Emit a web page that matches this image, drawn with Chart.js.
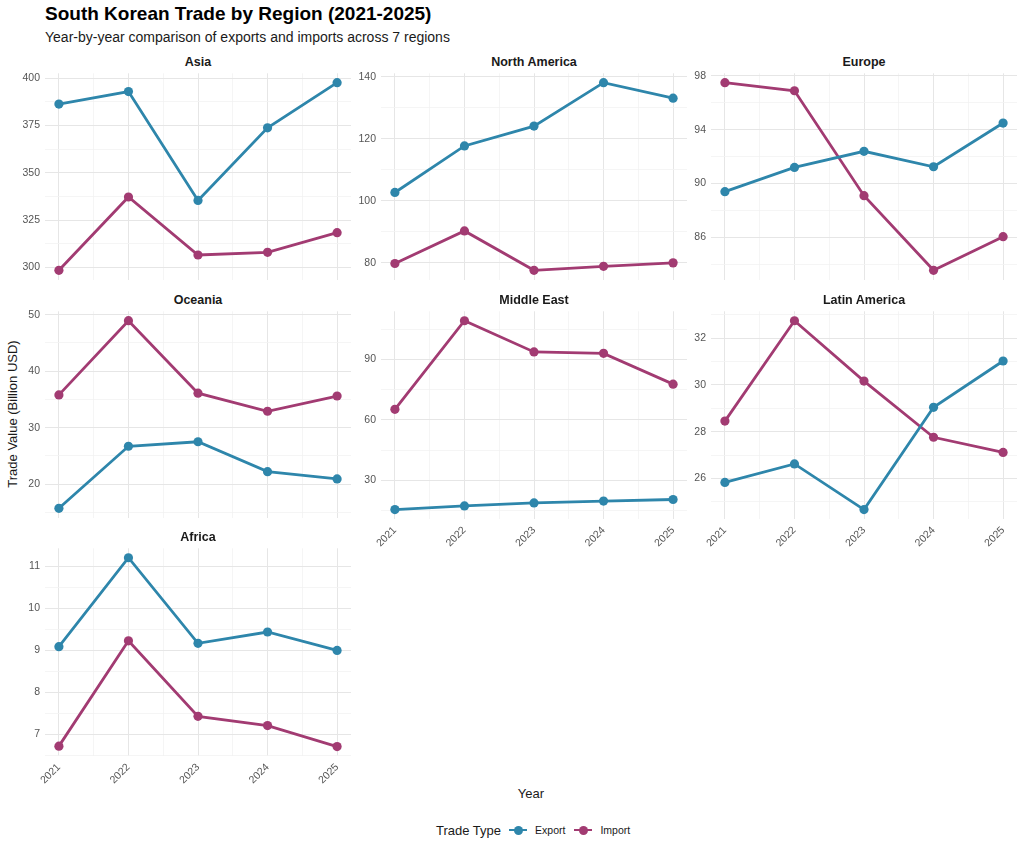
<!DOCTYPE html>
<html>
<head>
<meta charset="utf-8">
<script src="https://cdn.jsdelivr.net/npm/chart.js@4.4.1/dist/chart.umd.min.js"></script>
<style>
  html, body { margin: 0; padding: 0; background: #ffffff; }
  body { width: 1024px; height: 853px; position: relative; overflow: hidden;
         font-family: "Liberation Sans", Arial, Helvetica, sans-serif; }
  .abs { position: absolute; }
  #title { left: 45px; top: 3px; font-size: 19px; font-weight: bold; color: #000; white-space: nowrap; }
  #subtitle { left: 45px; top: 29px; font-size: 14px; color: #1a1a1a; white-space: nowrap; }
  .strip { font-size: 12.5px; font-weight: bold; color: #1a1a1a; text-align: center; width: 306px; }
  #ytitle { left: 12px; top: 414px; font-size: 13px; color: #1a1a1a; white-space: nowrap;
            transform: translate(-50%, -50%) rotate(-90deg); }
  #xtitle { left: 531px; top: 793px; font-size: 13px; color: #1a1a1a; transform: translate(-50%, -50%); }
  #legend { left: 436px; top: 821px; height: 18px; display: flex; align-items: center; white-space: nowrap; }
  #legend .lt { font-size: 13px; color: #1a1a1a; margin-right: 8px; }
  #legend .key { position: relative; width: 18px; height: 18px; margin-right: 8px; }
  #legend .key .ln { position: absolute; left: 0; top: 7.6px; width: 18px; height: 2.8px; }
  #legend .key .dt { position: absolute; left: 4.5px; top: 4.5px; width: 9px; height: 9px; border-radius: 50%; }
  #legend .lb { font-size: 10.5px; color: #1a1a1a; margin-right: 9px; }
</style>
</head>
<body>
<div id="title" class="abs">South Korean Trade by Region (2021-2025)</div>
<div id="subtitle" class="abs">Year-by-year comparison of exports and imports across 7 regions</div>
<div id="ytitle" class="abs">Trade Value (Billion USD)</div>
<div id="xtitle" class="abs">Year</div>
<div id="legend" class="abs">
  <span class="lt">Trade Type</span>
  <span class="key"><span class="ln" style="background:#2E86AB"></span><span class="dt" style="background:#2E86AB"></span></span>
  <span class="lb">Export</span>
  <span class="key"><span class="ln" style="background:#A23B72"></span><span class="dt" style="background:#A23B72"></span></span>
  <span class="lb">Import</span>
</div>
<script>
// ---------------- DATA ----------------
const years = [2021, 2022, 2023, 2024, 2025];
const regions = ['Asia', 'North America', 'Europe', 'Oceania', 'Middle East', 'Latin America', 'Africa'];

const exportAsia   = [386.4, 393.0, 335.4, 373.8, 397.7];
const importAsia   = [298.4, 337.2, 306.5, 307.9, 318.3];
const exportNorthAmerica = [102.7, 117.7, 124.1, 138.1, 133.1];
const importNorthAmerica = [79.8, 90.3, 77.6, 78.9, 80.0];
const exportEurope = [89.4, 91.2, 92.4, 91.25, 94.5];
const importEurope = [97.5, 96.9, 89.1, 83.55, 86.05];
const exportOceania = [15.7, 26.7, 27.5, 22.2, 20.9];
const importOceania = [35.8, 48.95, 36.1, 32.9, 35.6];
const exportMiddleEast = [15.5, 17.3, 18.8, 19.7, 20.5];
const importMiddleEast = [65.3, 109.3, 93.8, 93.1, 77.8];
const exportLatinAmerica = [25.83, 26.62, 24.67, 29.04, 31.02];
const importLatinAmerica = [28.45, 32.74, 30.16, 27.76, 27.11];
const exportAfrica = [9.09, 11.21, 9.17, 9.44, 9.0];
const importAfrica = [6.72, 9.23, 7.43, 7.21, 6.71];

const yTicksAsia = [300, 325, 350, 375, 400];
const yTicksNorthAmerica = [80, 100, 120, 140];
const yTicksEurope = [86, 90, 94, 98];
const yTicksOceania = [20, 30, 40, 50];
const yTicksMiddleEast = [30, 60, 90];
const yTicksLatinAmerica = [26, 28, 30, 32];
const yTicksAfrica = [7, 8, 9, 10, 11];

const exportSeries = [exportAsia, exportNorthAmerica, exportEurope, exportOceania, exportMiddleEast, exportLatinAmerica, exportAfrica];
const importSeries = [importAsia, importNorthAmerica, importEurope, importOceania, importMiddleEast, importLatinAmerica, importAfrica];
const yTickSets = [yTicksAsia, yTicksNorthAmerica, yTicksEurope, yTicksOceania, yTicksMiddleEast, yTicksLatinAmerica, yTicksAfrica];

// ---------------- LAYOUT / STYLE ----------------
const EXPORT_COLOR = '#2E86AB';
const IMPORT_COLOR = '#A23B72';
const FONT = '"Liberation Sans", Arial, Helvetica, sans-serif';
const colLeft = [45, 381, 711];
const rowTop = [72, 310, 547];
const plotW = 306, plotH = 209, yAxisW = 40, pad = 10, xAxisH = 40;
// panels that show x tick labels (bottom of each column)
const showX = [false, false, false, false, true, true, true];

function near(a, b) { return Math.abs(a - b) < 1e-6; }

regions.forEach((name, i) => {
  const col = i % 3, row = Math.floor(i / 3);
  const hasX = showX[i];
  const left = colLeft[col] - yAxisW;
  const top = rowTop[row] - pad;
  const w = yAxisW + plotW + pad;
  const h = pad + plotH + (hasX ? xAxisH : pad);

  const strip = document.createElement('div');
  strip.className = 'abs strip';
  strip.textContent = name;
  strip.style.left = colLeft[col] + 'px';
  strip.style.top = (rowTop[row] - 17) + 'px';
  document.body.appendChild(strip);

  const wrap = document.createElement('div');
  wrap.className = 'abs';
  wrap.style.left = left + 'px';
  wrap.style.top = top + 'px';
  wrap.style.width = w + 'px';
  wrap.style.height = h + 'px';
  const cv = document.createElement('canvas');
  wrap.appendChild(cv);
  document.body.appendChild(wrap);

  const ex = exportSeries[i], im = importSeries[i];
  const all = ex.concat(im);
  const dmin = Math.min(...all), dmax = Math.max(...all);
  const ext = (dmax - dmin) * 0.05;
  const majors = yTickSets[i];
  const step = (majors[1] - majors[0]) / 2;
  const isMajorY = v => majors.some(m => near(m, v));

  new Chart(cv, {
    type: 'line',
    data: {
      datasets: [
        { label: 'Export', data: years.map((y, k) => ({ x: y, y: ex[k] })),
          borderColor: EXPORT_COLOR, backgroundColor: EXPORT_COLOR, borderWidth: 2.8,
          pointRadius: 4.6, pointBorderWidth: 0, pointBackgroundColor: EXPORT_COLOR, tension: 0 },
        { label: 'Import', data: years.map((y, k) => ({ x: y, y: im[k] })),
          borderColor: IMPORT_COLOR, backgroundColor: IMPORT_COLOR, borderWidth: 2.8,
          pointRadius: 4.6, pointBorderWidth: 0, pointBackgroundColor: IMPORT_COLOR, tension: 0 }
      ]
    },
    options: {
      responsive: true,
      maintainAspectRatio: false,
      animation: false,
      layout: { padding: { top: pad, right: pad, bottom: hasX ? 0 : pad, left: 0 } },
      plugins: { legend: { display: false }, tooltip: { enabled: false }, title: { display: false } },
      scales: {
        x: {
          type: 'linear',
          min: years[0] - 0.2, max: years[years.length - 1] + 0.2,
          border: { display: false },
          grid: { drawTicks: false,
                  color: c => (c.tick && Number.isInteger(c.tick.value)) ? '#e6e6e6' : '#f2f2f2',
                  lineWidth: c => (c.tick && Number.isInteger(c.tick.value)) ? 1 : 0.8 },
          ticks: {
            display: hasX, stepSize: 0.5, autoSkip: false, includeBounds: false,
            maxRotation: 45, minRotation: 45, padding: 5,
            color: '#555555', font: { family: FONT, size: 10.5 },
            callback: v => Number.isInteger(v) ? String(v) : ''
          },
          afterFit: s => { s.height = hasX ? xAxisH : 0; }
        },
        y: {
          type: 'linear',
          min: dmin - ext, max: dmax + ext,
          border: { display: false },
          grid: { drawTicks: false,
                  color: c => (c.tick && isMajorY(c.tick.value)) ? '#e6e6e6' : '#f2f2f2',
                  lineWidth: c => (c.tick && isMajorY(c.tick.value)) ? 1 : 0.8 },
          ticks: {
            stepSize: step, autoSkip: false, includeBounds: false, padding: 5,
            color: '#555555', font: { family: FONT, size: 10.5 },
            callback: v => isMajorY(v) ? String(majors.find(m => near(m, v))) : ''
          },
          afterFit: s => { s.width = yAxisW; }
        }
      }
    }
  });
});
</script>
</body>
</html>
